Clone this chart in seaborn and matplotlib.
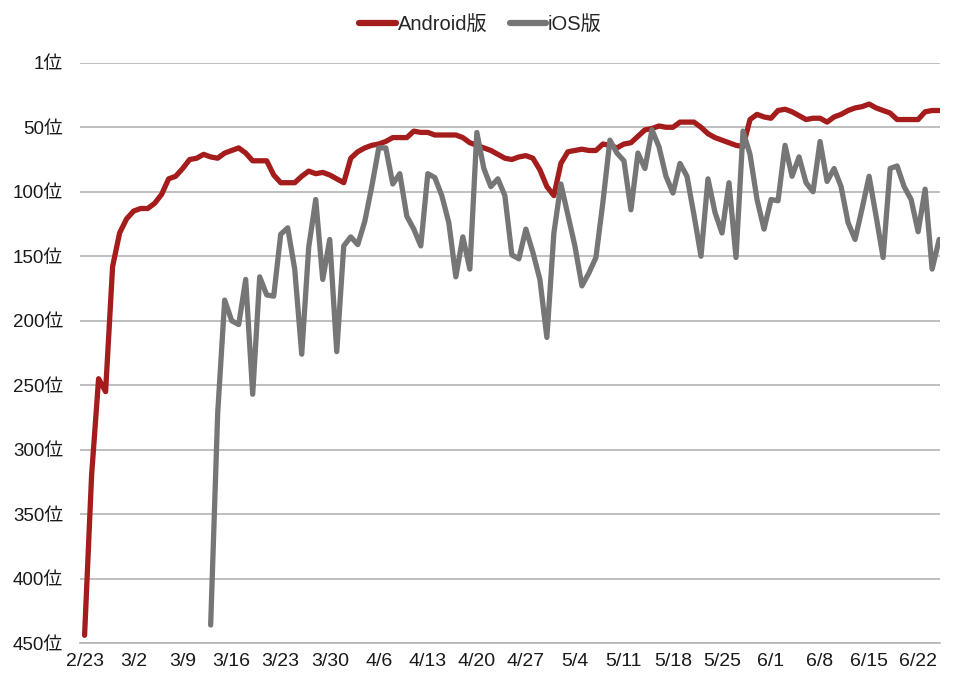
import matplotlib
matplotlib.use("Agg")
import matplotlib.pyplot as plt
import numpy as np
import pandas as pd
import seaborn as sns

# daily ranking, day 0 = 2/23
android_rank = [
    444, 320, 245, 255, 158, 132, 121, 115, 113, 113,
    109, 102, 90, 88, 82, 75, 74, 71, 73, 74,
    70, 68, 66, 70, 76, 76, 76, 87, 93, 93,
    93, 88, 84, 86, 85, 87, 90, 93, 74, 69,
    66, 64, 63, 61, 58, 58, 58, 53, 54, 54,
    56, 56, 56, 56, 58, 62, 64, 66, 68, 71,
    74, 75, 73, 72, 74, 83, 96, 103, 78, 69,
    68, 67, 68, 68, 63, 64, 66, 63, 62, 57,
    52, 51, 49, 50, 50, 46, 46, 46, 50, 55,
    58, 60, 62, 64, 65, 44, 40, 42, 43, 37,
    36, 38, 41, 44, 43, 43, 46, 42, 40, 37,
    35, 34, 32, 35, 37, 39, 44, 44, 44, 44,
    38, 37, 37,
]
ios_start = 18
ios_rank = [
    436, 272, 184, 200, 203, 168, 257, 166, 180, 181,
    133, 128, 160, 226, 143, 106, 168, 137, 224, 142,
    135, 141, 123, 96, 66, 66, 94, 86, 119, 129,
    142, 86, 89, 103, 124, 166, 135, 160, 54, 82,
    96, 90, 103, 149, 152, 129, 147, 168, 213, 132,
    94, 118, 142, 173, 163, 151, 108, 60, 70, 76,
    114, 70, 82, 52, 65, 88, 101, 78, 88, 118,
    150, 90, 116, 132, 93, 151, 53, 71, 106, 129,
    106, 107, 64, 88, 73, 93, 100, 61, 92, 82,
    96, 124, 137, 113, 88, 119, 151, 82, 80, 96,
    106, 131, 98, 160, 137,
]
x_labels = ['2/23', '3/2', '3/9', '3/16', '3/23', '3/30', '4/6', '4/13', '4/20',
            '4/27', '5/4', '5/11', '5/18', '5/25', '6/1', '6/8', '6/15', '6/22']
y_ticks = [0, 50, 100, 150, 200, 250, 300, 350, 400, 450]
y_labels = ['1位', '50位', '100位', '150位', '200位', '250位', '300位', '350位', '400位', '450位']

df_android = pd.DataFrame({'day': np.arange(len(android_rank)), 'rank': android_rank})
df_ios = pd.DataFrame({'day': np.arange(len(ios_rank)) + ios_start, 'rank': ios_rank})

sns.set_style("white")
plt.rcParams['font.family'] = ['Liberation Sans', 'Noto Sans CJK JP', 'DejaVu Sans']

fig = plt.figure(figsize=(9.6, 6.9), dpi=100)
ax = fig.add_axes([0.083, 0.068, 0.896, 0.841])

sns.lineplot(x='day', y='rank', data=df_android, color='#a51c1c', linewidth=3.8,
             label='Android版', ax=ax)
sns.lineplot(x='day', y='rank', data=df_ios, color='#767676', linewidth=3.8,
             label='iOS版', ax=ax)

ax.set_ylim(450, 0)
ax.set_xlim(-0.7, 122.1)
ax.set_yticks(y_ticks)
ax.set_yticklabels(y_labels, fontsize=13.5, color='#1a1a1a')
ax.set_xticks(np.arange(len(x_labels)) * 7)
ax.set_xticklabels(x_labels, fontsize=14, color='#1a1a1a')
ax.tick_params(axis='both', length=0)
ax.tick_params(axis='x', pad=7)
ax.tick_params(axis='y', pad=12)
ax.yaxis.grid(True, color='#b4b4b4', linewidth=1.2)
ax.xaxis.grid(False)
for s in ['top', 'right', 'left']:
    ax.spines[s].set_visible(False)
ax.spines['bottom'].set_color('#b4b4b4')
ax.spines['bottom'].set_linewidth(1.2)
ax.set_xlabel('')
ax.set_ylabel('')

leg = ax.legend(loc='center', bbox_to_anchor=(0.466, 1.066), ncol=2, frameon=False,
                fontsize=14.5, handlelength=1.8, handletextpad=0.1, columnspacing=1.1)
for line in leg.get_lines():
    line.set_linewidth(4.5)

plt.savefig('out.png', dpi=100)
